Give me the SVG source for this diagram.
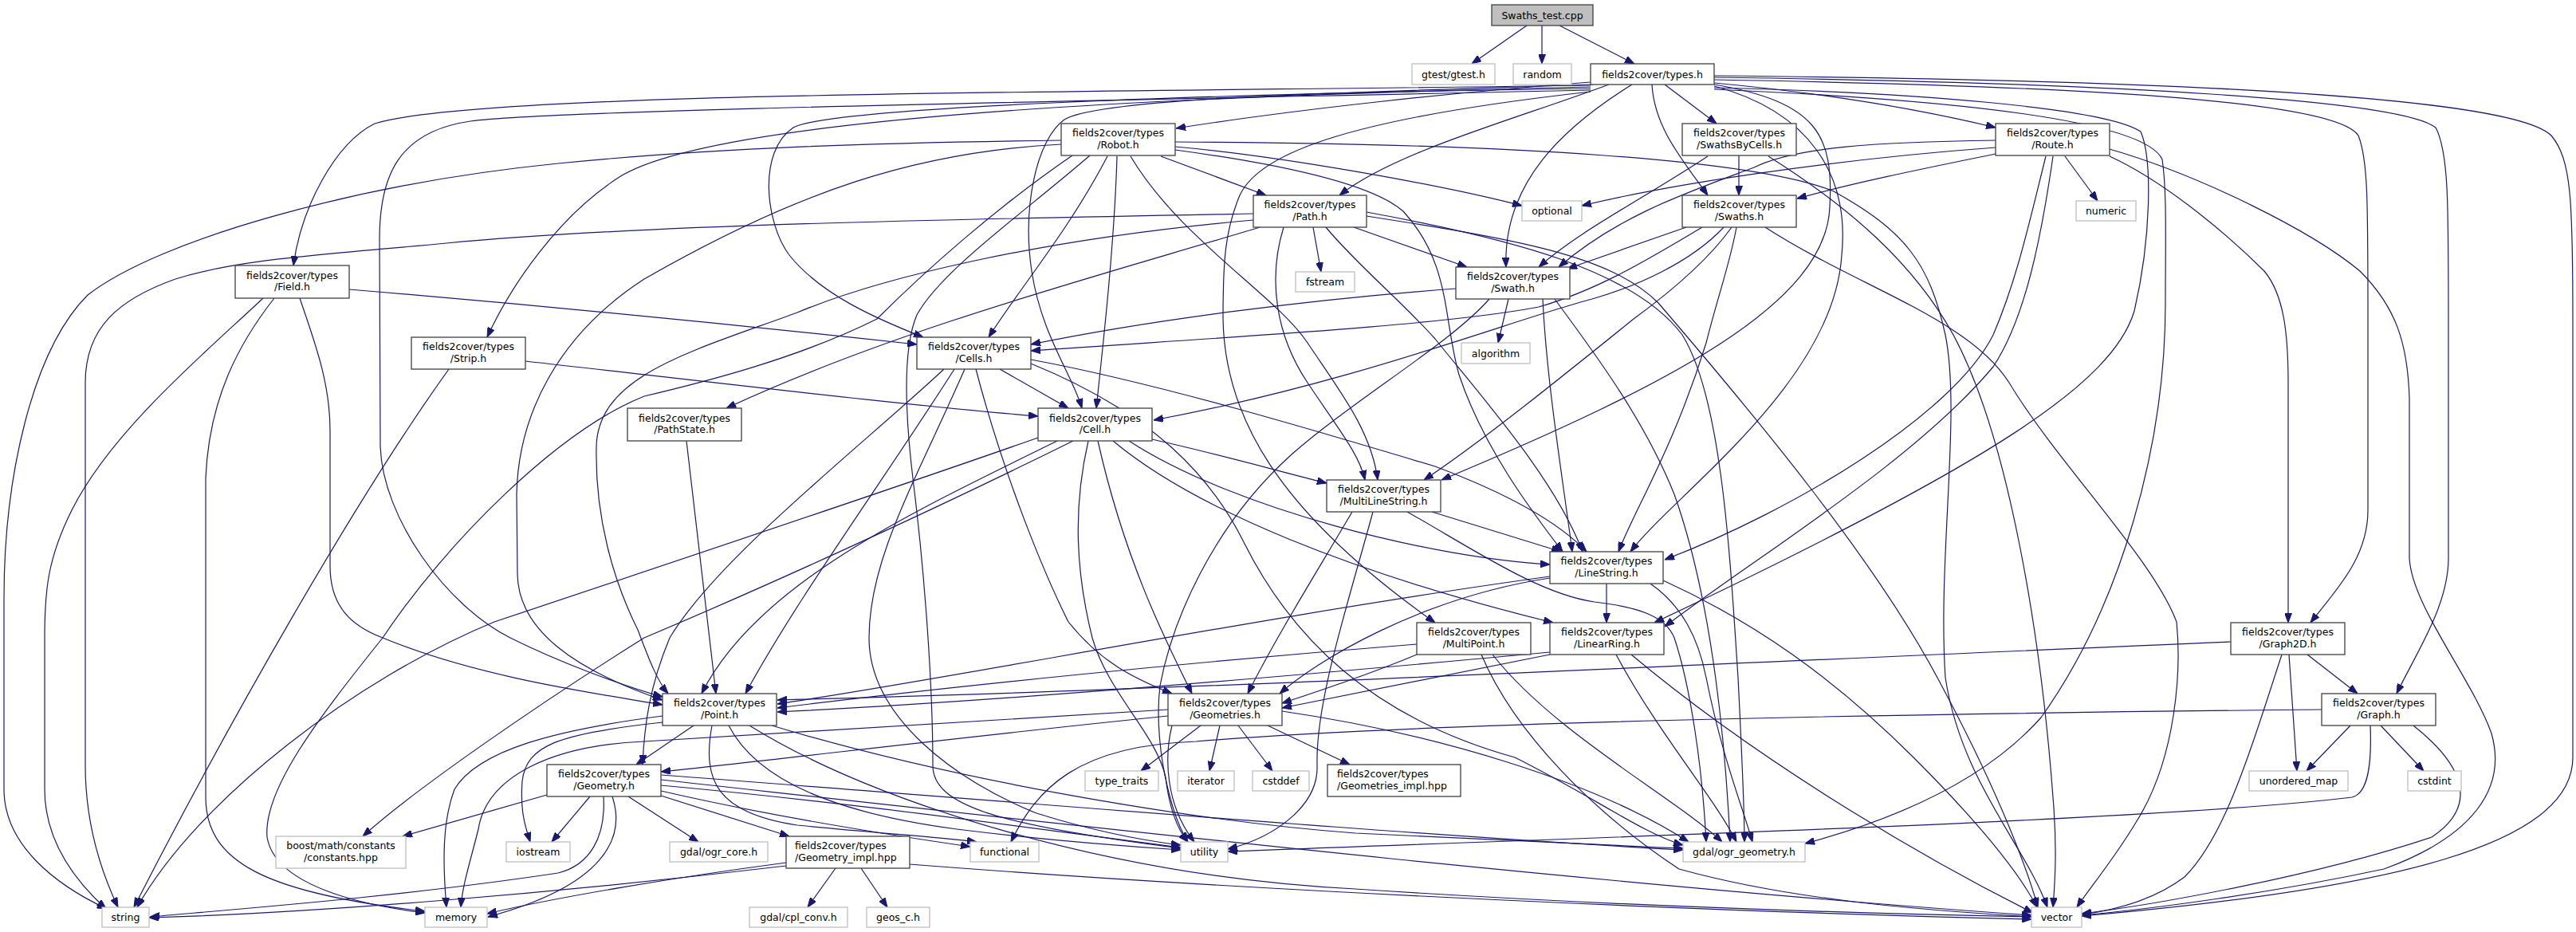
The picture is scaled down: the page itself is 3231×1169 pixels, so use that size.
<svg xmlns="http://www.w3.org/2000/svg" width="3231" height="1169" viewBox="0 0 3231 1169">
<style>
.n rect{fill:#fff;stroke:#404040;stroke-width:1.3}
.x rect{fill:#fff;stroke:#bfbfbf;stroke-width:1.3}
.r rect{fill:#bfbfbf;stroke:#404040;stroke-width:1.3}
text{font-family:"DejaVu Sans","Liberation Sans",sans-serif;font-size:12.5px;fill:#000;text-anchor:middle}
text.l{text-anchor:start}
#edges path{fill:none;stroke:#191970;stroke-width:1.2;marker-end:url(#a)}
</style>
<defs>
<marker id="a" markerWidth="12" markerHeight="9" refX="12" refY="4.5" orient="auto" markerUnits="userSpaceOnUse">
<path d="M0,0 L12,4.5 L0,9 z" fill="#191970" stroke="#191970" stroke-width="1"/>
</marker>
</defs>
<rect x="0" y="0" width="3231" height="1169" fill="#fff"/>
<g id="edges">
<path d="M1915,32 L1846,80"/>
<path d="M1934,32 L1934,80"/>
<path d="M1956,32 L2050,80"/>
<path d="M1995,103 C1820,116 1620,138 1475,161"/>
<path d="M1995,107 C1400,116 600,114 470,155 C420,180 378,260 368,333"/>
<path d="M1995,109 C1400,122 900,150 780,220 C700,270 640,360 611,423"/>
<path d="M1995,111 C1500,118 1040,135 995,160 C950,190 960,280 990,320 C1030,370 1100,400 1158,423"/>
<path d="M1998,106 C1700,116 1380,122 1335,150 C1300,175 1282,260 1294,340 C1306,420 1345,470 1357,512"/>
<path d="M1995,113 C1300,128 700,138 590,152 C500,165 476,220 476,300 L477,560 C480,650 560,760 640,800 C700,830 780,860 831,874"/>
<path d="M2018,106 C1900,150 1750,190 1680,245"/>
<path d="M2047,106 C1960,160 1885,230 1889,335"/>
<path d="M2088,106 L2153,155"/>
<path d="M2072,106 C2075,160 2110,200 2142,245"/>
<path d="M2150,104 C2300,118 2420,140 2503,160"/>
<path d="M2150,106 C2280,128 2300,170 2295,260 C2290,380 2100,480 1808,602"/>
<path d="M2150,108 C2270,140 2320,220 2310,320 C2300,480 2100,620 2045,692"/>
<path d="M1995,115 C1700,148 1580,190 1555,245 C1536,290 1534,330 1534,400 C1536,520 1600,640 1800,781"/>
<path d="M2150,110 C2400,116 2640,135 2685,165 C2700,200 2698,300 2677,390 C2650,480 2500,580 2075,781"/>
<path d="M2150,100 C2600,108 2930,125 2958,170 C2970,200 2970,250 2970,400 L2970,640 C2970,700 2930,740 2898,781"/>
<path d="M2150,97 C2650,104 3010,125 3055,160 C3071,190 3071,250 3071,400 L3071,700 C3071,760 3030,820 3006,870"/>
<path d="M2150,112 C2450,125 2690,150 2712,200 C2718,240 2716,300 2716,380 C2716,560 2660,760 2560,900 C2480,990 2350,1035 2264,1058"/>
<path d="M2150,95 C2700,100 3150,120 3200,170 C3225,200 3227,250 3227,400 L3227,950 C3227,1060 3000,1115 2611,1149"/>
<path d="M1331,176 C1100,179 900,185 700,205 C450,230 200,300 110,370 C40,440 5,600 5,750 L5,990 C5,1060 70,1110 134,1140"/>
<path d="M1331,181 C1150,190 1000,240 808,350 C700,420 650,520 648,620 L649,720 C650,790 720,840 831,878"/>
<path d="M1345,195 C1250,260 1160,340 1100,400 C1000,450 880,480 808,497 C700,540 560,680 480,800 C400,900 330,990 335,1050 C345,1110 450,1135 533,1145"/>
<path d="M1367,195 C1280,270 1180,340 1150,395 C1135,430 1133,500 1145,600 C1160,720 1170,860 1170,960 C1170,1010 1250,1035 1481,1064"/>
<path d="M1389,196 C1340,290 1280,360 1240,423"/>
<path d="M1401,196 C1398,300 1385,420 1375,512"/>
<path d="M1456,196 L1588,245"/>
<path d="M1418,196 C1480,300 1600,370 1640,430 C1680,490 1720,540 1728,602"/>
<path d="M1474,188 C1600,205 1720,230 1760,265 C1820,330 1810,400 1830,470 C1860,560 1920,640 1960,692"/>
<path d="M1474,184 C1600,195 1800,230 1909,258"/>
<path d="M1474,178 C1900,180 2200,200 2300,240 C2390,290 2420,330 2440,420 C2460,520 2430,700 2440,850 C2460,980 2540,1060 2568,1138"/>
<path d="M1572,268 C1200,275 800,282 560,305 C400,320 300,325 220,350 C150,375 107,410 107,480 L107,960 C107,1040 130,1100 148,1138"/>
<path d="M1647,285 L1657,341"/>
<path d="M1698,285 L1840,335"/>
<path d="M1580,285 C1400,340 1130,410 911,512"/>
<path d="M1572,276 C1300,300 1100,350 1000,392 C870,440 750,470 748,560 C746,650 770,730 800,790 C815,830 825,855 838,870"/>
<path d="M1663,285 C1700,330 1760,380 1800,425 C1860,500 1950,600 1985,692"/>
<path d="M1610,285 C1590,350 1600,420 1640,480 C1680,540 1705,570 1712,602"/>
<path d="M1714,266 C1900,300 2050,340 2110,420 C2160,500 2170,700 2180,850 C2185,950 2188,1010 2188,1056"/>
<path d="M1714,271 C1900,300 2020,320 2080,380 C2200,520 2350,700 2430,850 C2500,980 2540,1080 2556,1138"/>
<path d="M2181,195 L2181,245"/>
<path d="M2142,196 C2060,250 1980,290 1930,335"/>
<path d="M2218,196 C2320,260 2400,330 2450,420 C2520,550 2560,800 2575,1000 C2580,1060 2578,1100 2575,1138"/>
<path d="M2503,193 C2420,210 2330,228 2254,249"/>
<path d="M2503,185 C2300,200 2100,230 1984,258"/>
<path d="M2503,176 C2350,178 2250,185 2200,210 C2120,240 2030,270 1955,335"/>
<path d="M2590,196 L2631,252"/>
<path d="M2646,196 C2720,230 2800,300 2840,340 C2865,370 2870,420 2870,480 L2870,781"/>
<path d="M2646,187 C2760,220 2900,290 2960,340 C3005,385 3020,430 3022,500 L3022,700 C3025,760 3100,850 3125,920 C3145,990 3100,1050 2990,1090 C2850,1120 2700,1140 2611,1148"/>
<path d="M2566,196 C2545,280 2530,350 2500,420 C2450,520 2250,640 2088,702"/>
<path d="M2575,196 C2560,300 2540,400 2500,460 C2400,580 2200,700 2088,786"/>
<path d="M2115,285 L1966,337"/>
<path d="M2135,285 C2060,330 2000,365 1930,385 C1800,410 1500,425 1293,440"/>
<path d="M2162,285 C2120,330 2050,360 1997,375 C1900,400 1700,480 1447,527"/>
<path d="M2172,285 C2140,330 2090,370 2049,400 C1950,480 1850,560 1786,602"/>
<path d="M2178,285 C2170,330 2155,370 2140,430 C2100,560 2050,640 2030,692"/>
<path d="M2214,285 C2330,360 2470,400 2520,480 C2580,580 2700,700 2730,780 C2736,840 2730,950 2680,1030 C2650,1080 2620,1115 2605,1138"/>
<path d="M1892,375 L1879,430"/>
<path d="M1826,362 C1650,375 1450,400 1293,432"/>
<path d="M1868,375 C1820,430 1700,500 1620,570 C1520,660 1470,780 1455,860 C1450,900 1455,950 1465,990 C1472,1020 1480,1040 1490,1056"/>
<path d="M1935,375 C1940,480 1960,600 1972,692"/>
<path d="M1950,375 C1990,430 2060,520 2100,620 C2150,760 2165,950 2170,1056"/>
<path d="M438,363 C700,385 950,410 1150,432"/>
<path d="M330,374 C260,440 140,540 90,640 C60,700 56,740 56,800 L56,990 C56,1060 100,1110 133,1140"/>
<path d="M344,374 C300,430 262,500 258,600 L258,1000 C258,1080 330,1120 533,1143"/>
<path d="M376,374 C395,430 414,480 414,540 L414,710 C414,760 440,785 480,800 C600,850 750,870 831,884"/>
<path d="M659,453 C900,480 1150,510 1302,522"/>
<path d="M563,463 C450,620 290,900 168,1138"/>
<path d="M1254,463 L1340,512"/>
<path d="M1184,463 C1080,560 900,700 840,800 C815,860 808,910 806,959"/>
<path d="M1197,463 C1110,600 1000,750 935,870"/>
<path d="M1224,463 C1260,600 1310,720 1340,780 C1380,830 1420,850 1470,870"/>
<path d="M1210,463 C1150,600 1090,700 1090,800 C1090,900 1200,980 1300,1020 C1380,1045 1440,1055 1481,1060"/>
<path d="M1293,451 C1450,480 1650,540 1800,585 C1880,615 1950,650 1990,692"/>
<path d="M1293,456 C1450,520 1520,600 1560,680 C1620,800 1720,900 1900,950 C2000,1000 2060,1045 2111,1060"/>
<path d="M1302,549 C1100,620 800,720 620,780 C450,850 250,1000 172,1138"/>
<path d="M1326,553 C1150,640 950,730 880,870"/>
<path d="M1365,553 C1345,640 1350,720 1370,800 C1390,870 1450,920 1462,975 C1466,1010 1476,1040 1490,1056"/>
<path d="M1377,553 C1410,700 1460,800 1495,870"/>
<path d="M1396,553 C1500,640 1700,720 1948,781"/>
<path d="M1416,553 C1550,640 1800,700 1944,708"/>
<path d="M1445,551 C1530,570 1600,590 1664,606"/>
<path d="M1346,553 C1150,650 950,740 808,800 C680,880 520,990 455,1049"/>
<path d="M861,553 C872,650 885,760 898,870"/>
<path d="M1796,642 L1958,692"/>
<path d="M1696,642 C1650,720 1600,800 1565,870"/>
<path d="M1722,642 C1690,760 1650,880 1652,960 C1654,1010 1600,1050 1540,1065"/>
<path d="M1765,642 C1850,690 1930,745 2000,755 C2060,762 2090,775 2100,800 C2120,860 2135,960 2140,1056"/>
<path d="M2015,732 L2015,781"/>
<path d="M1944,723 C1600,770 1200,850 975,883"/>
<path d="M1944,725 C1780,750 1650,830 1605,870"/>
<path d="M2070,732 C2110,760 2130,800 2140,850 C2160,950 2185,1010 2198,1056"/>
<path d="M2086,728 C2200,780 2300,850 2400,950 C2480,1030 2530,1090 2555,1138"/>
<path d="M1777,808 C1500,830 1200,860 975,888"/>
<path d="M1777,821 C1720,845 1660,865 1608,882"/>
<path d="M1858,821 C1900,920 2000,1020 2106,1090 C2250,1130 2420,1142 2548,1150"/>
<path d="M1872,821 C1950,920 2100,1000 2160,1056"/>
<path d="M1944,818 C1600,850 1250,880 975,893"/>
<path d="M1944,821 C1800,850 1700,870 1608,888"/>
<path d="M2027,821 C2080,920 2150,1000 2178,1056"/>
<path d="M2046,821 C2200,950 2400,1070 2550,1145"/>
<path d="M2894,821 L2957,870"/>
<path d="M2871,821 L2881,967"/>
<path d="M2862,821 C2820,950 2790,1050 2740,1100 C2700,1130 2650,1142 2611,1147"/>
<path d="M2798,805 C2200,830 1500,865 975,878"/>
<path d="M2948,910 L2893,967"/>
<path d="M2986,910 L3040,967"/>
<path d="M3027,910 C3090,960 3110,1010 3050,1050 C2900,1100 2700,1135 2611,1146"/>
<path d="M2973,910 C2975,960 2970,995 2950,1000 C2700,1030 2000,1050 1540,1068"/>
<path d="M2912,890 C2400,895 1800,905 1500,930 C1350,935 1300,990 1268,1056"/>
<path d="M870,910 L798,959"/>
<path d="M831,898 C700,915 600,940 570,990 C555,1030 555,1080 560,1138"/>
<path d="M831,906 C700,920 660,935 655,980 C652,1020 660,1040 665,1056"/>
<path d="M893,910 C880,980 900,1020 1000,1035 C1100,1045 1180,1050 1225,1056"/>
<path d="M914,910 C950,980 1050,1020 1200,1040 C1320,1055 1420,1062 1481,1066"/>
<path d="M940,910 C1100,1010 1400,1100 1700,1115 C2000,1135 2300,1145 2548,1150"/>
<path d="M968,910 C1200,980 1500,1030 1700,1045 C1900,1055 2000,1060 2111,1064"/>
<path d="M1506,910 L1431,967"/>
<path d="M1530,910 L1517,967"/>
<path d="M1553,910 L1596,967"/>
<path d="M1590,910 L1693,959"/>
<path d="M1465,898 C1200,925 1000,950 829,968"/>
<path d="M1465,890 C1200,905 950,920 808,930 C690,935 610,975 600,1040 C590,1080 580,1110 578,1138"/>
<path d="M1470,910 C1460,950 1462,1010 1498,1056"/>
<path d="M1608,892 C1800,920 2000,980 2118,1056"/>
<path d="M686,997 L505,1049"/>
<path d="M740,999 L692,1056"/>
<path d="M768,999 C785,1050 760,1110 612,1150"/>
<path d="M757,999 C760,1050 740,1085 700,1095 C500,1125 300,1140 188,1150"/>
<path d="M788,999 L876,1056"/>
<path d="M829,998 L990,1049"/>
<path d="M829,992 C950,1020 1100,1045 1217,1062"/>
<path d="M829,985 C1100,1010 1300,1040 1481,1063"/>
<path d="M829,978 C1300,1030 2000,1110 2548,1148"/>
<path d="M829,972 C1200,1000 1800,1050 2111,1066"/>
<path d="M1048,1089 L1013,1138"/>
<path d="M1080,1089 L1113,1138"/>
<path d="M986,1086 C700,1120 400,1145 187,1151"/>
<path d="M986,1082 C850,1100 700,1125 611,1146"/>
<path d="M1141,1084 C1600,1120 2200,1145 2548,1153"/>
</g>
<g id="n_root" class="r"><rect x="1871" y="6" width="127" height="26"/><text x="1934.5" y="23.5">Swaths_test.cpp</text></g>
<g id="n_gtest" class="x"><rect x="1771" y="80" width="104" height="26"/><text x="1823" y="97.5">gtest/gtest.h</text></g>
<g id="n_random" class="x"><rect x="1898" y="80" width="73" height="26"/><text x="1934.5" y="97.5">random</text></g>
<g id="n_types" class="n"><rect x="1995" y="80" width="155" height="26"/><text x="2072.5" y="97.5">fields2cover/types.h</text></g>
<g id="n_robot" class="n"><rect x="1331" y="155" width="143" height="40"/><text x="1402.5" y="171">fields2cover/types</text><text x="1402.5" y="185.5">/Robot.h</text></g>
<g id="n_sbc" class="n"><rect x="2110" y="155" width="143" height="40"/><text x="2181.5" y="171">fields2cover/types</text><text x="2181.5" y="185.5">/SwathsByCells.h</text></g>
<g id="n_route" class="n"><rect x="2503" y="155" width="143" height="40"/><text x="2574.5" y="171">fields2cover/types</text><text x="2574.5" y="185.5">/Route.h</text></g>
<g id="n_path" class="n"><rect x="1572" y="245" width="142" height="40"/><text x="1643" y="261">fields2cover/types</text><text x="1643" y="275.5">/Path.h</text></g>
<g id="n_optional" class="x"><rect x="1909" y="252" width="75" height="25"/><text x="1946.5" y="269">optional</text></g>
<g id="n_swaths" class="n"><rect x="2110" y="245" width="143" height="40"/><text x="2181.5" y="261">fields2cover/types</text><text x="2181.5" y="275.5">/Swaths.h</text></g>
<g id="n_numeric" class="x"><rect x="2604" y="252" width="75" height="25"/><text x="2641.5" y="269">numeric</text></g>
<g id="n_field" class="n"><rect x="295" y="333" width="143" height="41"/><text x="366.5" y="349.5">fields2cover/types</text><text x="366.5" y="364">/Field.h</text></g>
<g id="n_fstream" class="x"><rect x="1625" y="341" width="74" height="25"/><text x="1662" y="358">fstream</text></g>
<g id="n_swath" class="n"><rect x="1826" y="335" width="143" height="40"/><text x="1897.5" y="351">fields2cover/types</text><text x="1897.5" y="365.5">/Swath.h</text></g>
<g id="n_strip" class="n"><rect x="516" y="423" width="143" height="40"/><text x="587.5" y="439">fields2cover/types</text><text x="587.5" y="453.5">/Strip.h</text></g>
<g id="n_cells" class="n"><rect x="1150" y="423" width="143" height="40"/><text x="1221.5" y="439">fields2cover/types</text><text x="1221.5" y="453.5">/Cells.h</text></g>
<g id="n_algorithm" class="x"><rect x="1833" y="430" width="86" height="26"/><text x="1876" y="447.5">algorithm</text></g>
<g id="n_pathstate" class="n"><rect x="787" y="512" width="143" height="41"/><text x="858.5" y="528.5">fields2cover/types</text><text x="858.5" y="543">/PathState.h</text></g>
<g id="n_cell" class="n"><rect x="1302" y="512" width="143" height="41"/><text x="1373.5" y="528.5">fields2cover/types</text><text x="1373.5" y="543">/Cell.h</text></g>
<g id="n_mls" class="n"><rect x="1664" y="602" width="143" height="40"/><text x="1735.5" y="618">fields2cover/types</text><text x="1735.5" y="632.5">/MultiLineString.h</text></g>
<g id="n_ls" class="n"><rect x="1944" y="692" width="142" height="40"/><text x="2015" y="708">fields2cover/types</text><text x="2015" y="722.5">/LineString.h</text></g>
<g id="n_mp" class="n"><rect x="1777" y="781" width="143" height="40"/><text x="1848.5" y="797">fields2cover/types</text><text x="1848.5" y="811.5">/MultiPoint.h</text></g>
<g id="n_lr" class="n"><rect x="1944" y="781" width="143" height="40"/><text x="2015.5" y="797">fields2cover/types</text><text x="2015.5" y="811.5">/LinearRing.h</text></g>
<g id="n_graph2d" class="n"><rect x="2798" y="781" width="143" height="40"/><text x="2869.5" y="797">fields2cover/types</text><text x="2869.5" y="811.5">/Graph2D.h</text></g>
<g id="n_point" class="n"><rect x="831" y="870" width="143" height="40"/><text x="902.5" y="886">fields2cover/types</text><text x="902.5" y="900.5">/Point.h</text></g>
<g id="n_geometries" class="n"><rect x="1465" y="870" width="143" height="40"/><text x="1536.5" y="886">fields2cover/types</text><text x="1536.5" y="900.5">/Geometries.h</text></g>
<g id="n_graph" class="n"><rect x="2912" y="870" width="143" height="40"/><text x="2983.5" y="886">fields2cover/types</text><text x="2983.5" y="900.5">/Graph.h</text></g>
<g id="n_geometry" class="n"><rect x="686" y="959" width="143" height="40"/><text x="757.5" y="975">fields2cover/types</text><text x="757.5" y="989.5">/Geometry.h</text></g>
<g id="n_geometries_impl" class="n"><rect x="1665" y="959" width="167" height="40"/><text class="l" x="1677" y="975">fields2cover/types</text><text class="l" x="1677" y="989.5">/Geometries_impl.hpp</text></g>
<g id="n_type_traits" class="x"><rect x="1361" y="967" width="92" height="25"/><text x="1407" y="984">type_traits</text></g>
<g id="n_iterator" class="x"><rect x="1477" y="967" width="71" height="25"/><text x="1512.5" y="984">iterator</text></g>
<g id="n_cstddef" class="x"><rect x="1571" y="967" width="71" height="25"/><text x="1606.5" y="984">cstddef</text></g>
<g id="n_unordered_map" class="x"><rect x="2821" y="967" width="124" height="25"/><text x="2883" y="984">unordered_map</text></g>
<g id="n_cstdint" class="x"><rect x="3020" y="967" width="67" height="25"/><text x="3053.5" y="984">cstdint</text></g>
<g id="n_boost" class="x"><rect x="346" y="1049" width="163" height="40"/><text x="427.5" y="1065">boost/math/constants</text><text x="427.5" y="1079.5">/constants.hpp</text></g>
<g id="n_iostream" class="x"><rect x="635" y="1056" width="80" height="25"/><text x="675" y="1073">iostream</text></g>
<g id="n_ogr_core" class="x"><rect x="840" y="1056" width="123" height="25"/><text x="901.5" y="1073">gdal/ogr_core.h</text></g>
<g id="n_geometry_impl" class="n"><rect x="986" y="1049" width="155" height="40"/><text class="l" x="997" y="1065">fields2cover/types</text><text class="l" x="997" y="1079.5">/Geometry_impl.hpp</text></g>
<g id="n_functional" class="x"><rect x="1217" y="1056" width="86" height="25"/><text x="1260" y="1073">functional</text></g>
<g id="n_utility" class="x"><rect x="1481" y="1056" width="59" height="25"/><text x="1510.5" y="1073">utility</text></g>
<g id="n_ogr_geometry" class="x"><rect x="2111" y="1056" width="153" height="25"/><text x="2187.5" y="1073">gdal/ogr_geometry.h</text></g>
<g id="n_string" class="x"><rect x="128" y="1138" width="59" height="25"/><text x="157.5" y="1155">string</text></g>
<g id="n_memory" class="x"><rect x="533" y="1138" width="78" height="25"/><text x="572" y="1155">memory</text></g>
<g id="n_cpl_conv" class="x"><rect x="940" y="1138" width="123" height="25"/><text x="1001.5" y="1155">gdal/cpl_conv.h</text></g>
<g id="n_geos_c" class="x"><rect x="1087" y="1138" width="79" height="25"/><text x="1126.5" y="1155">geos_c.h</text></g>
<g id="n_vector" class="x"><rect x="2548" y="1138" width="63" height="25"/><text x="2579.5" y="1155">vector</text></g>
</svg>
